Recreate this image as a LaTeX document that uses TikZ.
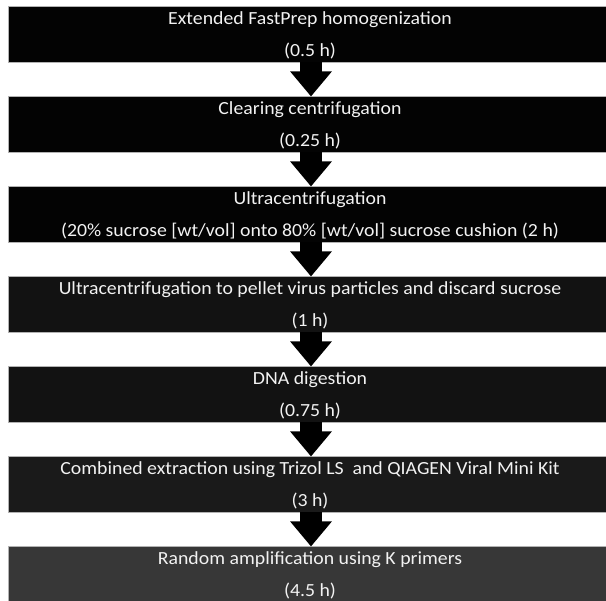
\documentclass[tikz,border=0pt]{standalone}
\usepackage{fontspec}
\setmainfont{Carlito}[FakeStretch=1.07]
\usetikzlibrary{arrows.meta}

\definecolor{boxA}{HTML}{030303}
\definecolor{boxB}{HTML}{121212}
\definecolor{boxC}{HTML}{1A1A1A}
\definecolor{boxD}{HTML}{373737}

\begin{document}
\begin{tikzpicture}[x=1pt, y=1pt,
	stepbox/.style={draw=gray!60, line width=0.8pt, minimum width=606pt, minimum height=56pt, inner sep=0pt, outer sep=0pt},
	steptext/.style={anchor=base, text=white!95!black, font=\fontsize{18.5}{22}\selectfont, inner sep=0pt},
	stepflow/.style={line width=22pt, -{Triangle[width=40pt, length=25pt]}}]

	\useasboundingbox (0, 0) rectangle (606, -601);

	% Bước 1
	\node[stepbox, fill=boxA] (s1) at (311, -34.5) {};
	\node[steptext] (s1a) at (310, -25) {Extended FastPrep homogenization};
	\node[steptext] (s1b) at (310, -57) {(0.5 h)};

	% Bước 2
	\node[stepbox, fill=boxA] (s2) at (311, -124.5) {};
	\node[steptext] (s2a) at (310, -115) {Clearing centrifugation};
	\node[steptext] (s2b) at (310, -147) {(0.25 h)};

	% Bước 3
	\node[stepbox, fill=boxA] (s3) at (311, -214.5) {};
	\node[steptext] (s3a) at (310, -205) {Ultracentrifugation};
	\node[steptext] (s3b) at (310, -237) {(20\% sucrose [wt/vol] onto 80\% [wt/vol] sucrose cushion (2 h)};

	% Bước 4
	\node[stepbox, fill=boxB] (s4) at (311, -304.5) {};
	\node[steptext] (s4a) at (310, -295) {Ultracentrifugation to pellet virus particles and discard sucrose};
	\node[steptext] (s4b) at (310, -327) {(1 h)};

	% Bước 5
	\node[stepbox, fill=boxB] (s5) at (311, -394.5) {};
	\node[steptext] (s5a) at (310, -385) {DNA digestion};
	\node[steptext] (s5b) at (310, -417) {(0.75 h)};

	% Bước 6
	\node[stepbox, fill=boxC] (s6) at (311, -484.5) {};
	\node[steptext] (s6a) at (310, -475) {Combined extraction using Trizol LS\ \ and QIAGEN Viral Mini Kit};
	\node[steptext] (s6b) at (310, -507) {(3 h)};

	% Bước 7
	\node[stepbox, fill=boxD] (s7) at (311, -574.5) {};
	\node[steptext] (s7a) at (310, -565) {Random amplification using K primers};
	\node[steptext] (s7b) at (310, -597) {(4.5 h)};

	% Mũi tên
	\draw[stepflow] (s1) -- (s2);
	\draw[stepflow] (s2) -- (s3);
	\draw[stepflow] (s3) -- (s4);
	\draw[stepflow] (s4) -- (s5);
	\draw[stepflow] (s5) -- (s6);
	\draw[stepflow] (s6) -- (s7);

\end{tikzpicture}
\end{document}
